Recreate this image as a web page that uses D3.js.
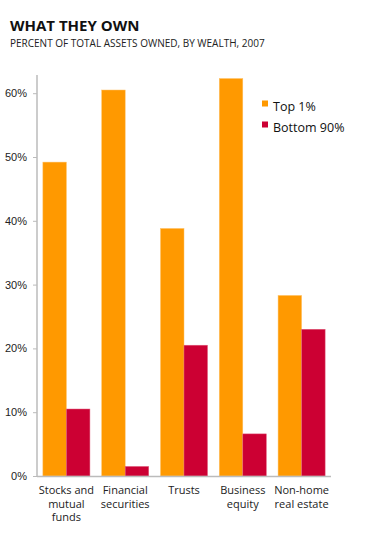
<!DOCTYPE html>
<html lang="en">
<head>
  <meta charset="UTF-8" />
  <title>What They Own</title>
  <script src="https://d3js.org/d3.v7.min.js"></script>
  <style>
    body { margin: 0; padding: 0; background: #fff; font-family: "Open Sans", sans-serif; }
    svg { display: block; }
    .title { font-size: 15px; font-weight: bold; fill: #111; }
    .subtitle { font-size: 10px; fill: #222; }
    .tick text { font-size: 11px; fill: #222; }
    .cat { font-size: 11px; fill: #222; }
    .legend text { font-size: 12.5px; fill: #111; }
  </style>
</head>
<body>
  <svg></svg>
  <script>
  // Data
  const categories = [["Stocks and", "mutual", "funds"], ["Financial", "securities"], ["Trusts"], ["Business", "equity"], ["Non-home", "real estate"]];
  const seriesNames = ["Top 1%", "Bottom 90%"];
  const top1 = [49.2, 60.5, 38.8, 62.3, 28.3];
  const bottom90 = [10.5, 1.5, 20.5, 6.6, 23.0];
  const yTicks = [0, 10, 20, 30, 40, 50, 60];
  const colors = ["#ff9900", "#cc0033"];

  const W = 368, H = 541;
  const svg = d3.select('svg').attr('width', W).attr('height', H);

  svg.append('text').attr('class', 'title').attr('x', 10).attr('y', 31).text('WHAT THEY OWN');
  svg.append('text').attr('class', 'subtitle').attr('x', 10).attr('y', 47)
    .text('PERCENT OF TOTAL ASSETS OWNED, BY WEALTH, 2007');

  const left = 37, right = 331, base = 476, topY = 75;
  const x = d3.scaleBand().domain(d3.range(categories.length)).range([left, right])
    .paddingInner(0.2).paddingOuter(0.1);
  const xs = d3.scaleBand().domain([0, 1]).range([0, x.bandwidth()]);
  const y = d3.scaleLinear().domain([0, 60]).range([base, base - 6 * 63.8]);

  // bars
  const rows = categories.map((c, i) => [top1[i], bottom90[i]]);
  const g = svg.append('g');
  g.selectAll('g.grp').data(rows).enter().append('g')
    .attr('transform', (d, i) => `translate(${x(i)},0)`)
    .selectAll('rect').data(d => d).enter().append('rect')
    .attr('x', (d, j) => xs(j))
    .attr('width', xs.bandwidth())
    .attr('y', d => y(d))
    .attr('height', d => base - y(d))
    .attr('fill', (d, j) => colors[j])
    .attr('stroke', (d, j) => j ? '#e0607f' : '#ffc266')
    .attr('stroke-width', 0.5);

  // y axis
  const yAxis = d3.axisLeft(y).tickValues(yTicks).tickFormat(d => d + '%')
    .tickSize(4).tickPadding(6);
  const ya = svg.append('g').attr('transform', `translate(${left},0)`).call(yAxis);
  ya.select('.domain').remove();
  ya.selectAll('.tick line').attr('stroke', '#bbb');
  svg.append('line').attr('x1', left).attr('x2', left).attr('y1', topY).attr('y2', base + 0.5)
    .attr('stroke', '#bbb').attr('stroke-width', 1.5);
  svg.append('line').attr('x1', left).attr('x2', right).attr('y1', base + 0.5).attr('y2', base + 0.5)
    .attr('stroke', '#bbb').attr('stroke-width', 1.5);

  // category labels
  categories.forEach((lines, i) => {
    const t = svg.append('text').attr('class', 'cat').attr('text-anchor', 'middle')
      .attr('x', x(i) + x.bandwidth() / 2).attr('y', 494);
    lines.forEach((l, k) => t.append('tspan').attr('x', x(i) + x.bandwidth() / 2)
      .attr('dy', k ? 13.5 : 0).text(l));
  });

  // legend
  const lg = svg.append('g').attr('class', 'legend');
  seriesNames.forEach((n, i) => {
    lg.append('rect').attr('x', 262).attr('y', 100.5 + i * 21).attr('width', 6).attr('height', 6)
      .attr('fill', colors[i]);
    lg.append('text').attr('x', 273).attr('y', 111 + i * 21).text(n);
  });
  </script>
</body>
</html>
